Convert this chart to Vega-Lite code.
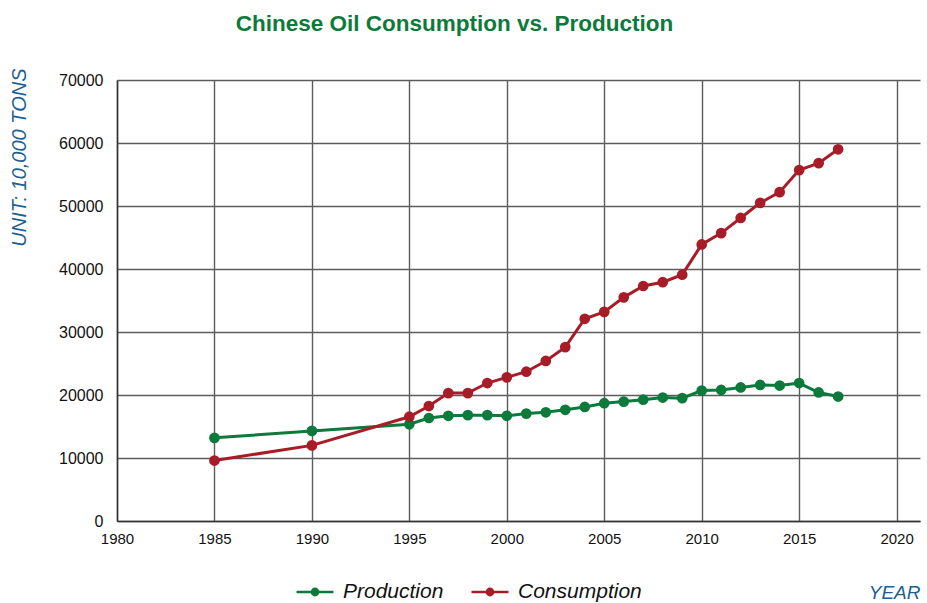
{
  "$schema": "https://vega.github.io/schema/vega-lite/v6.json",
  "width": 803,
  "height": 441,
  "autosize": {"type": "none"},
  "padding": {"left": 117, "top": 80, "right": 7, "bottom": 82},
  "background": "white",
  "title": {
    "text": "Chinese Oil Consumption vs. Production",
    "font": "Liberation Sans",
    "fontSize": 22.5,
    "fontWeight": "bold",
    "color": "#0b7a3b",
    "anchor": "middle",
    "frame": "group",
    "dx": -64,
    "offset": 33
  },
  "data": {
    "values": [
      {"year": 1985, "series": "Production", "value": 13200},
      {"year": 1990, "series": "Production", "value": 14300},
      {"year": 1995, "series": "Production", "value": 15350},
      {"year": 1996, "series": "Production", "value": 16350},
      {"year": 1997, "series": "Production", "value": 16700},
      {"year": 1998, "series": "Production", "value": 16800},
      {"year": 1999, "series": "Production", "value": 16800},
      {"year": 2000, "series": "Production", "value": 16700},
      {"year": 2001, "series": "Production", "value": 17050},
      {"year": 2002, "series": "Production", "value": 17250},
      {"year": 2003, "series": "Production", "value": 17650},
      {"year": 2004, "series": "Production", "value": 18100},
      {"year": 2005, "series": "Production", "value": 18700},
      {"year": 2006, "series": "Production", "value": 18950},
      {"year": 2007, "series": "Production", "value": 19250},
      {"year": 2008, "series": "Production", "value": 19600},
      {"year": 2009, "series": "Production", "value": 19500},
      {"year": 2010, "series": "Production", "value": 20700},
      {"year": 2011, "series": "Production", "value": 20800},
      {"year": 2012, "series": "Production", "value": 21200},
      {"year": 2013, "series": "Production", "value": 21600},
      {"year": 2014, "series": "Production", "value": 21500},
      {"year": 2015, "series": "Production", "value": 21900},
      {"year": 2016, "series": "Production", "value": 20400},
      {"year": 2017, "series": "Production", "value": 19750},
      {"year": 1985, "series": "Consumption", "value": 9600},
      {"year": 1990, "series": "Consumption", "value": 12000},
      {"year": 1995, "series": "Consumption", "value": 16550},
      {"year": 1996, "series": "Consumption", "value": 18250},
      {"year": 1997, "series": "Consumption", "value": 20300},
      {"year": 1998, "series": "Consumption", "value": 20300},
      {"year": 1999, "series": "Consumption", "value": 21900},
      {"year": 2000, "series": "Consumption", "value": 22800},
      {"year": 2001, "series": "Consumption", "value": 23700},
      {"year": 2002, "series": "Consumption", "value": 25400},
      {"year": 2003, "series": "Consumption", "value": 27600},
      {"year": 2004, "series": "Consumption", "value": 32100},
      {"year": 2005, "series": "Consumption", "value": 33200},
      {"year": 2006, "series": "Consumption", "value": 35500},
      {"year": 2007, "series": "Consumption", "value": 37300},
      {"year": 2008, "series": "Consumption", "value": 37900},
      {"year": 2009, "series": "Consumption", "value": 39100},
      {"year": 2010, "series": "Consumption", "value": 43900},
      {"year": 2011, "series": "Consumption", "value": 45700},
      {"year": 2012, "series": "Consumption", "value": 48100},
      {"year": 2013, "series": "Consumption", "value": 50500},
      {"year": 2014, "series": "Consumption", "value": 52200},
      {"year": 2015, "series": "Consumption", "value": 55700},
      {"year": 2016, "series": "Consumption", "value": 56800},
      {"year": 2017, "series": "Consumption", "value": 59000}
    ]
  },
  "encoding": {
    "x": {
      "field": "year",
      "type": "quantitative",
      "scale": {"domain": [1980, 2021.2], "nice": false, "zero": false},
      "axis": {
        "values": [1980, 1985, 1990, 1995, 2000, 2005, 2010, 2015, 2020],
        "format": "d",
        "title": "YEAR",
        "titleFont": "Liberation Sans",
        "titleFontStyle": "italic",
        "titleFontWeight": "normal",
        "titleFontSize": 19,
        "titleColor": "#1d5f94",
        "titleAnchor": null,
        "titleAlign": "right",
        "titleBaseline": "alphabetic",
        "titleX": 803,
        "titleY": 77,
        "labelFont": "Liberation Sans",
        "labelFontSize": 15,
        "labelColor": "#111111",
        "labelPadding": 10,
        "labelFlush": false,
        "ticks": false,
        "domainColor": "#333333",
        "domainWidth": 1.5,
        "gridColor": "#5c5c5c",
        "gridWidth": 1.4
      }
    },
    "y": {
      "field": "value",
      "type": "quantitative",
      "scale": {"domain": [0, 70000], "nice": false},
      "axis": {
        "values": [0, 10000, 20000, 30000, 40000, 50000, 60000, 70000],
        "format": "d",
        "title": "UNIT: 10,000 TONS",
        "titleFont": "Liberation Sans",
        "titleFontStyle": "italic",
        "titleFontWeight": "normal",
        "titleFontSize": 20,
        "titleColor": "#1d5f94",
        "titleAngle": -90,
        "titleAnchor": null,
        "titleAlign": "right",
        "titleBaseline": "alphabetic",
        "titleX": -92,
        "titleY": -12,
        "labelFont": "Liberation Sans",
        "labelFontSize": 16,
        "labelColor": "#111111",
        "labelPadding": 14,
        "labelFlush": false,
        "ticks": false,
        "domainColor": "#333333",
        "domainWidth": 1.5,
        "gridColor": "#5c5c5c",
        "gridWidth": 1.4
      }
    },
    "color": {
      "field": "series",
      "type": "nominal",
      "scale": {"domain": ["Production", "Consumption"], "range": ["#0b7a3b", "#a81c27"]},
      "legend": {
        "title": null,
        "orient": "none",
        "direction": "horizontal",
        "legendX": 178,
        "legendY": 492,
        "padding": 0,
        "symbolType": "M-1,0L1,0M-0.17,0A0.17,0.17 0 1,0 0.17,0A0.17,0.17 0 1,0 -0.17,0M-0.09,0A0.09,0.09 0 1,0 0.09,0A0.09,0.09 0 1,0 -0.09,0M-0.02,0A0.02,0.02 0 1,0 0.02,0A0.02,0.02 0 1,0 -0.02,0",
        "symbolSize": 1369,
        "symbolStrokeWidth": 2.5,
        "labelFont": "Liberation Sans",
        "labelFontStyle": "italic",
        "labelFontSize": 21,
        "labelColor": "#111111",
        "labelOffset": 8,
        "columnPadding": 22,
        "labelLimit": 300
      }
    }
  },
  "layer": [
    {"mark": {"type": "line", "strokeWidth": 3}},
    {"mark": {"type": "point", "filled": true, "size": 115, "opacity": 1}}
  ],
  "config": {
    "view": {"stroke": null},
    "font": "Liberation Sans"
  }
}
